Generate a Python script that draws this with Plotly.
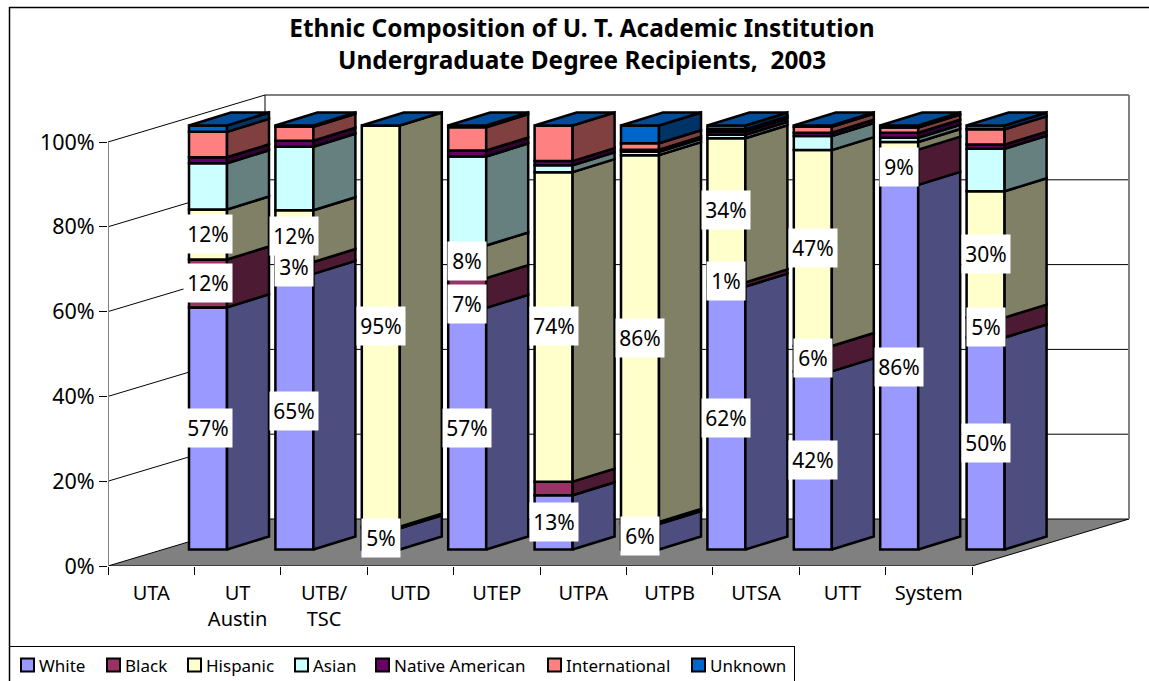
import plotly.graph_objects as go

categories = ["UTA", "UT<br>Austin", "UTB/<br>TSC", "UTD", "UTEP", "UTPA", "UTPB", "UTSA", "UTT", "System"]
white    = [57.1, 65.0,  5.0, 57.0, 12.8,  6.0, 62.0, 42.0, 86.0, 50.0]
black    = [11.3,  2.8,  0.4,  7.0,  3.2,  0.5,  1.0,  6.0,  8.3,  4.7]
hispanic = [11.8, 12.2, 94.6,  7.7, 73.0, 86.5, 34.0, 46.2,  1.8, 29.8]
asian    = [10.9, 15.0,  0.0, 21.0,  1.6,  0.8,  0.8,  3.3,  1.0, 10.0]
native   = [ 1.4,  1.4,  0.0,  1.4,  1.0,  0.5,  0.8,  0.8,  1.2,  1.0]
intl     = [ 6.0,  3.3,  0.0,  5.5,  8.4,  1.5,  0.5,  1.4,  1.2,  3.6]
unknown  = [ 1.5,  0.3,  0.0,  0.4,  0.0,  4.2,  0.9,  0.3,  0.5,  0.9]

white_labels    = [57, 65, 5, 57, 13, 6, 62, 42, 86, 50]
black_labels    = [12, 3, None, 7, None, None, 1, 6, 9, 5]
hispanic_labels = [12, 12, 95, 8, 74, 86, 34, 47, None, 30]

series_names = ["White", "Black", "Hispanic", "Asian", "Native American", "International", "Unknown"]
series_values = [white, black, hispanic, asian, native, intl, unknown]
front_colors = ["#9999FF", "#993366", "#FFFFCC", "#CCFFFF", "#660066", "#FF8080", "#0066CC"]
side_colors  = ["#4D4D80", "#4D1A33", "#808066", "#668080", "#330033", "#804040", "#003366"]
top_color = "#004C99"
legend_swatch_px = [21, 107, 188, 295, 376, 548, 692]

FONT = "Noto Sans"
EDGE = 2.5
W, H = 1149, 681
L, R, T, B = 108, 19, 94, 115
PX_X, PX_Y = 86.4, 4.24           # pixels per category / per percentage point
XMAX = (W - L - R) / PX_X
YMAX = (H - T - B) / PX_Y
DEPTH_X, DEPTH_Y = 157 / PX_X, 47 / PX_Y       # oblique depth of the floor
BAR_DX, BAR_DY = 42 / PX_X, 13 / PX_Y          # oblique depth of a bar
BAR_OFF = 81 / PX_X                            # left edge of bar inside its slot
BAR_BASE = 16.5 / PX_Y                         # lift of bar base on the floor
BAR_W = 38 / PX_X
N = len(categories)

def px(xp): return (xp - L) / (W - L - R)
def py(yp): return (H - B - yp) / (H - T - B)

fig = go.Figure()
bottoms = [BAR_BASE] * N
cums = []
for values in series_values:
    cums.append(list(bottoms))
    bottoms = [b + v for b, v in zip(bottoms, values)]

lefts = [i + BAR_OFF for i in range(N)]
centers = [l + BAR_W / 2 for l in lefts]

for name, values, color, base in zip(series_names, series_values, front_colors, cums):
    fig.add_trace(go.Bar(name=name, x=centers, y=values, base=base, width=BAR_W, showlegend=False,
                         marker=dict(color=color, line=dict(color="black", width=EDGE))))

for values, color, base in zip(series_values, side_colors, cums):
    xs, ys = [], []
    for l, v, b in zip(lefts, values, base):
        if v <= 0:
            continue
        r = l + BAR_W
        xs += [r, r + BAR_DX, r + BAR_DX, r, r, None]
        ys += [b, b + BAR_DY, b + v + BAR_DY, b + v, b, None]
    fig.add_trace(go.Scatter(x=xs, y=ys, mode="lines", fill="toself", fillcolor=color,
                             line=dict(color="black", width=EDGE), showlegend=False, hoverinfo="skip"))

xs, ys = [], []
for l, t in zip(lefts, bottoms):
    xs += [l, l + BAR_W, l + BAR_W + BAR_DX, l + BAR_DX, l, None]
    ys += [t, t, t + BAR_DY, t + BAR_DY, t, None]
fig.add_trace(go.Scatter(x=xs, y=ys, mode="lines", fill="toself", fillcolor=top_color,
                         line=dict(color="black", width=EDGE), showlegend=False, hoverinfo="skip"))

shapes = []
def line(x0, y0, x1, y1, color="black", width=1):
    shapes.append(dict(type="line", xref="x", yref="y", x0=x0, y0=y0, x1=x1, y1=y1,
                       line=dict(color=color, width=width), layer="below"))
def pline(x0, y0, x1, y1, width=1.5):
    shapes.append(dict(type="line", xref="paper", yref="paper", x0=px(x0), y0=py(y0), x1=px(x1), y1=py(y1),
                       line=dict(color="black", width=width)))

# floor
shapes.append(dict(type="path", xref="x", yref="y", layer="below", fillcolor="#808080",
                   line=dict(color="black", width=1),
                   path=f"M0,0 L{N},0 L{N+DEPTH_X},{DEPTH_Y} L{DEPTH_X},{DEPTH_Y} Z"))
# walls and gridlines
for pct in range(20, 120, 20):
    line(0, pct, DEPTH_X, pct + DEPTH_Y)
    line(DEPTH_X, pct + DEPTH_Y, N + DEPTH_X, pct + DEPTH_Y)
line(0, 0, 0, 100, color="#808080", width=2)
line(DEPTH_X, DEPTH_Y, DEPTH_X, 100 + DEPTH_Y)
line(N + DEPTH_X, DEPTH_Y, N + DEPTH_X, 100 + DEPTH_Y, color="#808080", width=2)
# outer chart frame and legend frame
pline(9, 7.5, W, 7.5)
pline(9.5, 7, 9.5, H)
pline(9, 646.5, 794.5, 646.5, width=1)
pline(794.5, 646, 794.5, H, width=1)

annotations = [dict(text="<b>Undergraduate Degree Recipients,\u00a0\u00a02003</b>", xref="paper", yref="paper",
                    x=px(582), y=py(60), xanchor="center", yanchor="middle", showarrow=False,
                    font=dict(family=FONT, size=24.4, color="black"))]

# legend swatches and names
for name, color, sx in zip(series_names, front_colors, legend_swatch_px):
    shapes.append(dict(type="rect", xref="paper", yref="paper", x0=px(sx), x1=px(sx + 13),
                       y0=py(658.5), y1=py(671.5), fillcolor=color, line=dict(color="black", width=2)))
    annotations.append(dict(text=name, xref="paper", yref="paper", x=px(sx + 16), y=py(665),
                            xanchor="left", yanchor="middle", showarrow=False,
                            font=dict(family=FONT, size=17, color="black")))

label_shift = {(3, 1): -12, (6, 1): 3}   # hand-moved labels in the source chart
for s, labels in enumerate([white_labels, black_labels, hispanic_labels]):
    for i, lab in enumerate(labels):
        if lab is None:
            continue
        mid = cums[s][i] + series_values[s][i] / 2
        annotations.append(dict(text=f"{lab}%", xref="x", yref="y", x=centers[i], y=mid,
                                xanchor="center", yanchor="middle", showarrow=False,
                                yshift=0.5 + label_shift.get((i, s), 0),
                                bgcolor="white", width=46 if lab >= 10 else 36, height=36,
                                font=dict(family=FONT, size=21, color="black")))

fig.update_layout(
    width=W, height=H, margin=dict(l=L, r=R, t=T, b=B, pad=0, autoexpand=False),
    paper_bgcolor="white", plot_bgcolor="white", barmode="overlay",
    font=dict(family=FONT, size=20, color="black"),
    title=dict(text="<b>Ethnic Composition of U. T. Academic Institution</b>", x=px(582), xref="paper",
               xanchor="center", y=1 - 28 / H, yanchor="middle", yref="container",
               font=dict(family=FONT, size=24.4, color="black")),
    xaxis=dict(range=[0, XMAX], tickmode="array", tickvals=[i + 0.5 for i in range(N)], ticktext=categories,
               ticks="", showgrid=False, zeroline=False, showline=False, ticklabelstandoff=13,
               minor=dict(tickmode="array", tickvals=list(range(N + 1)), ticks="outside", ticklen=8,
                          tickcolor="black", tickwidth=1, showgrid=False),
               tickfont=dict(family=FONT, size=20)),
    yaxis=dict(range=[0, YMAX], tickmode="array", tickvals=list(range(0, 120, 20)),
               ticktext=[f"{v}%" for v in range(0, 120, 20)], ticks="outside", ticklen=8,
               tickcolor="black", tickwidth=1, showgrid=False, zeroline=False, showline=False,
               tickfont=dict(family=FONT, size=21.5)),
    shapes=shapes, annotations=annotations, showlegend=False,
)

fig.write_html("out.html", config=dict(displayModeBar=False),
               post_script="document.body.style.margin='0';")
